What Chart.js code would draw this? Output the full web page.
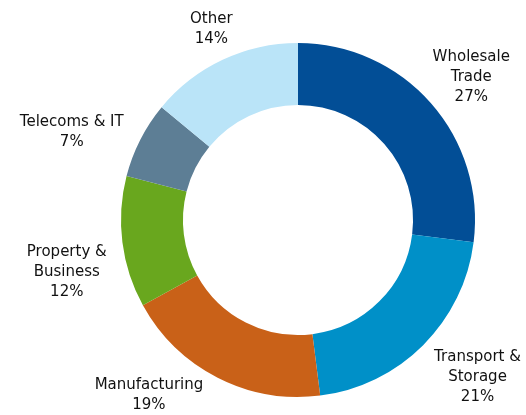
<!DOCTYPE html>
<html>
<head>
<meta charset="utf-8">
<script src="https://cdn.jsdelivr.net/npm/chart.js@4.4.1/dist/chart.umd.min.js"></script>
<style>
  html, body { margin: 0; padding: 0; background: #fff; }
  #wrap { width: 526px; height: 415px; position: relative; }
</style>
</head>
<body>
<div id="wrap"><canvas id="sectorChart"></canvas></div>
<script>
// data
const sectors = ["Wholesale\nTrade", "Transport &\nStorage", "Manufacturing", "Property &\nBusiness", "Telecoms & IT", "Other"];
const shares = [27, 21, 19, 12, 7, 14];
const colours = ["#024e96", "#0090c8", "#c96118", "#69a71e", "#5d7e95", "#bae4f8"];

// label placement: distance past the rim, then a small nudge per label
const labelDist = 50;
const labelNudge = [[3, 7], [19, -3], [-46, -27], [-6, 24], [-24, 15], [10, 15]];

const sliceLabels = {
  id: "sliceLabels",
  afterDraw(chart) {
    const ctx = chart.ctx;
    const meta = chart.getDatasetMeta(0);
    ctx.save();
    ctx.font = "15px 'DejaVu Sans'";
    ctx.fillStyle = "#111";
    ctx.textAlign = "center";
    ctx.textBaseline = "middle";
    meta.data.forEach((arc, i) => {
      const p = arc.getProps(["x", "y", "startAngle", "endAngle", "outerRadius"], true);
      const mid = (p.startAngle + p.endAngle) / 2;
      const r = p.outerRadius + labelDist;
      const cx = p.x + Math.cos(mid) * r + labelNudge[i][0];
      const cy = p.y + Math.sin(mid) * r + labelNudge[i][1];
      const lines = sectors[i].split("\n").concat([shares[i] + "%"]);
      const lh = 20;
      lines.forEach((t, j) => {
        ctx.fillText(t, cx, cy + (j - (lines.length - 1) / 2) * lh);
      });
    });
    ctx.restore();
  }
};

new Chart(document.getElementById("sectorChart"), {
  type: "doughnut",
  data: {
    labels: sectors.map(s => s.replace("\n", " ")),
    datasets: [{
      data: shares,
      backgroundColor: colours,
      borderWidth: 0
    }]
  },
  options: {
    responsive: true,
    maintainAspectRatio: false,
    animation: false,
    cutout: "65%",
    layout: { padding: { top: 43, bottom: 18, left: 121, right: 51 } },
    plugins: {
      legend: { display: false },
      tooltip: { enabled: false }
    }
  },
  plugins: [sliceLabels]
});
</script>
</body>
</html>
